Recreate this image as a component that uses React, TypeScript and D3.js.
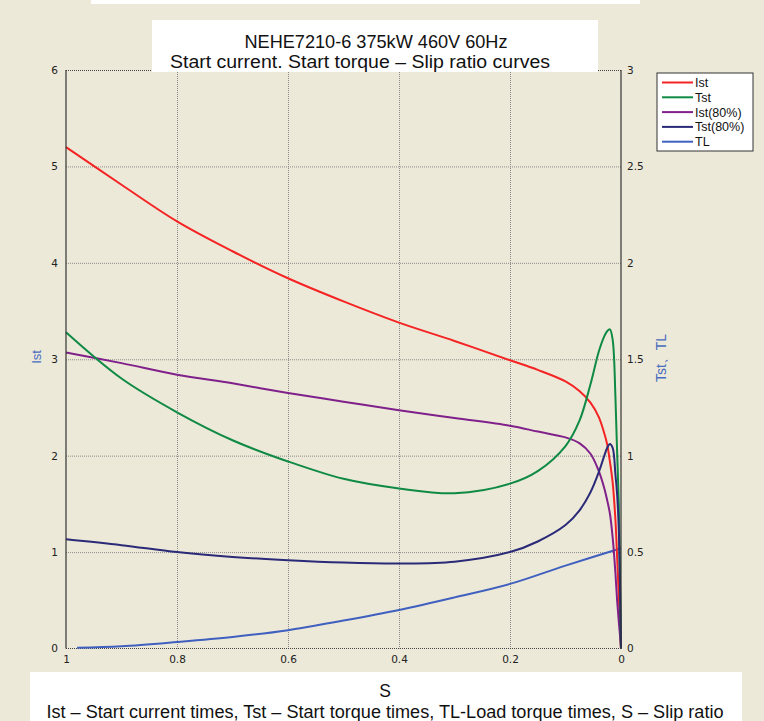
import React, { useEffect, useRef } from "react";
import * as d3 from "d3";

// slip ratio samples (denser near 0 where the curves turn)
const slip = [1, 0.9, 0.8, 0.7, 0.6, 0.5, 0.4, 0.3, 0.2, 0.15, 0.1, 0.075, 0.055, 0.04, 0.03, 0.025, 0.02, 0.015, 0.01, 0.007, 0.004, 0.002, 0];
const ist = [5.2, 4.81, 4.43, 4.12, 3.84, 3.6, 3.38, 3.19, 2.99, 2.89, 2.77, 2.67, 2.55, 2.4, 2.23, 2.12, 1.94, 1.72, 1.33, 0.95, 0.55, 0.28, 0];
const tst = [1.64, 1.4, 1.225, 1.08, 0.97, 0.88, 0.83, 0.805, 0.855, 0.92, 1.05, 1.18, 1.37, 1.54, 1.62, 1.645, 1.655, 1.6, 1.3, 1.02, 0.75, 0.4, 0];
const ist80 = [3.07, 2.96, 2.84, 2.75, 2.65, 2.56, 2.47, 2.39, 2.31, 2.25, 2.19, 2.13, 2.02, 1.84, 1.66, 1.54, 1.4, 1.15, 0.78, 0.5, 0.28, 0.15, 0];
const tst80 = [0.566, 0.536, 0.5, 0.475, 0.458, 0.446, 0.441, 0.45, 0.5, 0.555, 0.64, 0.715, 0.81, 0.915, 1.0, 1.04, 1.06, 1.04, 0.9, 0.8, 0.62, 0.35, 0];
const tlSlip = [0.98, 0.9, 0.8, 0.7, 0.6, 0.5, 0.4, 0.3, 0.2, 0.1, 0];
const tl = [0.004, 0.012, 0.034, 0.06, 0.095, 0.145, 0.2, 0.265, 0.335, 0.43, 0.52];

const leftTicks = [0, 1, 2, 3, 4, 5, 6];
const rightTicks = [0, 0.5, 1, 1.5, 2, 2.5, 3];
const xTicks = [1, 0.8, 0.6, 0.4, 0.2, 0];
const legendNames = ["Ist", "Tst", "Ist(80%)", "Tst(80%)", "TL"];
const lineColors = ["#f52424", "#0f8a44", "#80208a", "#2a2a78", "#4060c0"];

const W = 764;
const H = 721;
const FONT = "Liberation Sans, Arial, sans-serif";

const App = () => {
  const ref = useRef(null);

  useEffect(() => {
    const svg = d3.select(ref.current);
    svg.selectAll("*").remove();

    const left = 66, right = 621, top = 70, bottom = 648.5;
    const x = d3.scaleLinear().domain([1, 0]).range([left, right]);
    const yL = d3.scaleLinear().domain([0, 6]).range([bottom, top]);
    const yR = d3.scaleLinear().domain([0, 3]).range([bottom, top]);

    svg.append("rect").attr("width", W).attr("height", H).attr("fill", "#ece9d8");
    svg.append("rect").attr("x", 91).attr("y", 0).attr("width", 549).attr("height", 4).attr("fill", "#fff");

    // grid
    const grid = svg.append("g").attr("stroke", "#8c8c8c").attr("stroke-dasharray", "1,1");
    grid.selectAll(".gy").data([1, 2, 3, 4, 5]).enter().append("line")
      .attr("x1", left).attr("x2", right)
      .attr("y1", (d) => yL(d) + 0.5).attr("y2", (d) => yL(d) + 0.5);
    grid.selectAll(".gx").data([0.8, 0.6, 0.4, 0.2]).enter().append("line")
      .attr("y1", top).attr("y2", bottom)
      .attr("x1", (d) => Math.round(x(d)) + 0.5).attr("x2", (d) => Math.round(x(d)) + 0.5);

    // frame: dotted top/bottom, solid sides
    svg.append("line").attr("x1", left).attr("x2", right).attr("y1", top + 0.5).attr("y2", top + 0.5)
      .attr("stroke", "#444").attr("stroke-dasharray", "1,1");
    svg.append("line").attr("x1", left).attr("x2", right).attr("y1", bottom).attr("y2", bottom)
      .attr("stroke", "#444").attr("stroke-dasharray", "1,1");

    const line = (xs, ys, yScale) =>
      d3.line().curve(d3.curveCatmullRom.alpha(0.5))(xs.map((s, i) => [x(s), yScale(ys[i])]));

    const curves = [
      { xs: tlSlip, ys: tl, y: yR, c: lineColors[4] },
      { xs: slip, ys: ist, y: yL, c: lineColors[0] },
      { xs: slip, ys: ist80, y: yL, c: lineColors[2] },
      { xs: slip, ys: tst, y: yR, c: lineColors[1] },
      { xs: slip, ys: tst80, y: yR, c: lineColors[3] },
    ];
    curves.forEach((cv) => {
      svg.append("path").attr("d", line(cv.xs, cv.ys, cv.y))
        .attr("fill", "none").attr("stroke", cv.c).attr("stroke-width", 2);
    });

    svg.append("line").attr("x1", left).attr("x2", left).attr("y1", top).attr("y2", bottom)
      .attr("stroke", "#333").attr("stroke-width", 1.2);
    svg.append("line").attr("x1", right).attr("x2", right).attr("y1", top).attr("y2", bottom)
      .attr("stroke", "#333").attr("stroke-width", 1.2);

    const styleAxis = (g) => {
      g.select(".domain").remove();
      g.selectAll("text").attr("font-family", "DejaVu Sans, Verdana, sans-serif").attr("font-size", 10.5).attr("fill", "#222");
    };
    svg.append("g").attr("transform", `translate(${left},0)`)
      .call(d3.axisLeft(yL).tickValues(leftTicks).tickSize(0).tickPadding(8).tickFormat(d3.format("d")))
      .call(styleAxis);
    svg.append("g").attr("transform", `translate(${right},0)`)
      .call(d3.axisRight(yR).tickValues(rightTicks).tickSize(0).tickPadding(6).tickFormat((d) => String(d)))
      .call(styleAxis);
    svg.append("g").attr("transform", `translate(0,${bottom})`)
      .call(d3.axisBottom(x).tickValues(xTicks).tickSize(0).tickPadding(7).tickFormat((d) => String(d)))
      .call(styleAxis);

    // axis titles
    svg.append("text").attr("transform", "translate(41,357) rotate(-90)").attr("text-anchor", "middle")
      .attr("font-family", FONT).attr("font-size", 13).attr("fill", "#4a6cc0").text("Ist");
    svg.append("text").attr("transform", "translate(666,358) rotate(-90)").attr("text-anchor", "middle")
      .attr("font-family", FONT).attr("font-size", 14).attr("fill", "#4a6cc0").text("Tst、TL");

    // title box
    svg.append("clipPath").attr("id", "tclip").append("rect").attr("x", 152).attr("y", 20).attr("width", 446).attr("height", 52);
    const tg = svg.append("g").attr("clip-path", "url(#tclip)");
    tg.append("rect").attr("x", 152).attr("y", 20).attr("width", 446).attr("height", 52).attr("fill", "#fff");
    tg.append("text").attr("x", 376).attr("y", 48).attr("text-anchor", "middle")
      .attr("font-family", FONT).attr("font-size", 17.5).attr("fill", "#111")
      .attr("textLength", 263).attr("lengthAdjust", "spacingAndGlyphs")
      .text("NEHE7210-6 375kW 460V 60Hz");
    tg.append("text").attr("x", 360).attr("y", 68).attr("text-anchor", "middle")
      .attr("font-family", FONT).attr("font-size", 17.5).attr("fill", "#111")
      .attr("textLength", 380).attr("lengthAdjust", "spacingAndGlyphs")
      .text("Start current. Start torque – Slip ratio curves");

    // legend
    const lg = svg.append("g").attr("transform", "translate(657,73)");
    lg.append("rect").attr("width", 96).attr("height", 78).attr("fill", "#fff").attr("stroke", "#333");
    legendNames.forEach((n, i) => {
      const yy = 9.5 + i * 14.8;
      lg.append("line").attr("x1", 5).attr("x2", 36).attr("y1", yy).attr("y2", yy)
        .attr("stroke", lineColors[i]).attr("stroke-width", 2);
      lg.append("text").attr("x", 38).attr("y", yy + 4.5).attr("font-family", FONT)
        .attr("font-size", 12.5).attr("fill", "#111").text(n);
    });

    // bottom caption box
    svg.append("clipPath").attr("id", "bclip").append("rect").attr("x", 30).attr("y", 672).attr("width", 712).attr("height", 49);
    const bg = svg.append("g").attr("clip-path", "url(#bclip)");
    bg.append("rect").attr("x", 30).attr("y", 672).attr("width", 712).attr("height", 49).attr("fill", "#fff");
    bg.append("text").attr("x", 385).attr("y", 697).attr("text-anchor", "middle")
      .attr("font-family", FONT).attr("font-size", 17.5).attr("fill", "#111").text("S");
    bg.append("text").attr("x", 385).attr("y", 718).attr("text-anchor", "middle")
      .attr("font-family", FONT).attr("font-size", 17.5).attr("fill", "#111")
      .attr("textLength", 677).attr("lengthAdjust", "spacingAndGlyphs")
      .text("Ist – Start current times, Tst – Start torque times, TL-Load torque times, S – Slip ratio");

    return () => {
      svg.selectAll("*").remove();
    };
  }, []);

  return (
    <svg ref={ref} width={W} height={H} style={{ position: "absolute", left: 0, top: 0, display: "block" }} />
  );
};

export default App;
